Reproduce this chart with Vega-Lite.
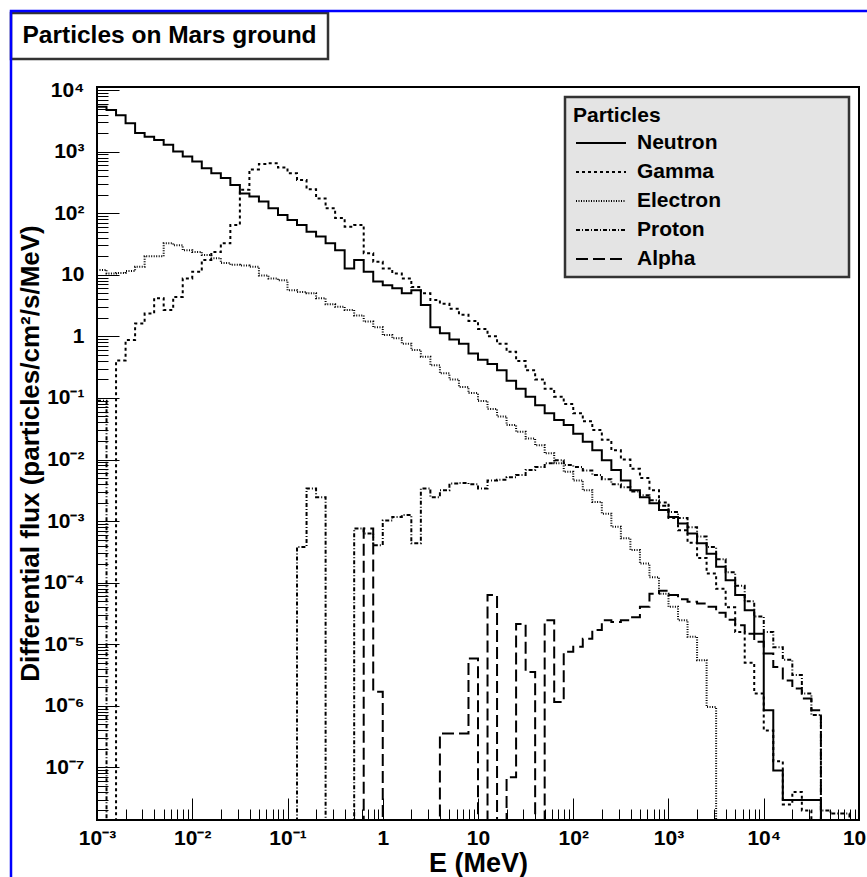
{
  "$schema": "https://vega.github.io/schema/vega-lite/v6.json",
  "autosize": {"type": "none"},
  "width": 762,
  "height": 733,
  "padding": {"left": 97, "top": 87, "right": 8, "bottom": 57},
  "background": "white",
  "config": {
    "font": "Liberation Sans",
    "view": {"stroke": "black", "strokeWidth": 2},
    "legend": {"strokeWidth": 2.5},
    "axis": {
      "labelFont": "Liberation Sans", "labelFontWeight": "bold", "labelFontSize": 21, "labelColor": "black",
      "titleFont": "Liberation Sans", "titleFontWeight": "bold", "titleColor": "black",
      "tickColor": "black", "tickWidth": 1, "grid": false, "domain": false,
      "labelFlush": false, "labelOverlap": false, "labelBound": false
    }
  },
  "layer": [
    {
      "data": {"values": [
        {"E": 0.001, "Neutron": 5370, "Gamma": 1e-10, "Electron": 12, "Proton": 0.09, "Alpha": 1e-10},
        {"E": 0.0012589, "Neutron": 4730, "Gamma": 1e-10, "Electron": 10.5, "Proton": 1e-10, "Alpha": 1e-10},
        {"E": 0.0015849, "Neutron": 3890, "Gamma": 0.407, "Electron": 10.7, "Proton": 1e-10, "Alpha": 1e-10},
        {"E": 0.0019953, "Neutron": 2880, "Gamma": 0.871, "Electron": 11.5, "Proton": 1e-10, "Alpha": 1e-10},
        {"E": 0.0025119, "Neutron": 2000, "Gamma": 1.62, "Electron": 13.5, "Proton": 1e-10, "Alpha": 1e-10},
        {"E": 0.0031623, "Neutron": 1740, "Gamma": 2.34, "Electron": 20, "Proton": 1e-10, "Alpha": 1e-10},
        {"E": 0.0039811, "Neutron": 1550, "Gamma": 4.17, "Electron": 20, "Proton": 1e-10, "Alpha": 1e-10},
        {"E": 0.0050119, "Neutron": 1290, "Gamma": 2.69, "Electron": 32.4, "Proton": 1e-10, "Alpha": 1e-10},
        {"E": 0.0063096, "Neutron": 1000, "Gamma": 4.37, "Electron": 30.2, "Proton": 1e-10, "Alpha": 1e-10},
        {"E": 0.0079433, "Neutron": 832, "Gamma": 8.71, "Electron": 25.1, "Proton": 1e-10, "Alpha": 1e-10},
        {"E": 0.01, "Neutron": 692, "Gamma": 11.2, "Electron": 23.4, "Proton": 1e-10, "Alpha": 1e-10},
        {"E": 0.012589, "Neutron": 537, "Gamma": 17.4, "Electron": 20.9, "Proton": 1e-10, "Alpha": 1e-10},
        {"E": 0.015849, "Neutron": 447, "Gamma": 23.4, "Electron": 18.6, "Proton": 1e-10, "Alpha": 1e-10},
        {"E": 0.019953, "Neutron": 372, "Gamma": 32.4, "Electron": 15.5, "Proton": 1e-10, "Alpha": 1e-10},
        {"E": 0.025119, "Neutron": 288, "Gamma": 64.6, "Electron": 14.5, "Proton": 1e-10, "Alpha": 1e-10},
        {"E": 0.031623, "Neutron": 209, "Gamma": 240, "Electron": 14.1, "Proton": 1e-10, "Alpha": 1e-10},
        {"E": 0.039811, "Neutron": 186, "Gamma": 513, "Electron": 13.5, "Proton": 1e-10, "Alpha": 1e-10},
        {"E": 0.050119, "Neutron": 155, "Gamma": 631, "Electron": 9.77, "Proton": 1e-10, "Alpha": 1e-10},
        {"E": 0.063096, "Neutron": 120, "Gamma": 646, "Electron": 8.71, "Proton": 1e-10, "Alpha": 1e-10},
        {"E": 0.079433, "Neutron": 93.3, "Gamma": 550, "Electron": 8.13, "Proton": 1e-10, "Alpha": 1e-10},
        {"E": 0.1, "Neutron": 77.6, "Gamma": 447, "Electron": 5.62, "Proton": 1e-10, "Alpha": 1e-10},
        {"E": 0.12589, "Neutron": 64.6, "Gamma": 347, "Electron": 5.25, "Proton": 0.00038, "Alpha": 1e-10},
        {"E": 0.15849, "Neutron": 50.1, "Gamma": 245, "Electron": 5.01, "Proton": 0.00339, "Alpha": 1e-10},
        {"E": 0.19953, "Neutron": 41.7, "Gamma": 174, "Electron": 4.17, "Proton": 0.00245, "Alpha": 1e-10},
        {"E": 0.25119, "Neutron": 32.4, "Gamma": 120, "Electron": 3.31, "Proton": 1e-10, "Alpha": 1e-10},
        {"E": 0.31623, "Neutron": 25.1, "Gamma": 83.2, "Electron": 3.02, "Proton": 1e-10, "Alpha": 1e-10},
        {"E": 0.39811, "Neutron": 12.6, "Gamma": 60.3, "Electron": 2.69, "Proton": 1e-10, "Alpha": 1e-10},
        {"E": 0.50119, "Neutron": 17.4, "Gamma": 64.6, "Electron": 2.19, "Proton": 0.000759, "Alpha": 1e-10},
        {"E": 0.63096, "Neutron": 11.2, "Gamma": 22.4, "Electron": 1.74, "Proton": 0.000631, "Alpha": 0.000759},
        {"E": 0.79433, "Neutron": 7.76, "Gamma": 16.2, "Electron": 1.41, "Proton": 0.000407, "Alpha": 1.7e-6},
        {"E": 1, "Neutron": 6.76, "Gamma": 12.6, "Electron": 1.05, "Proton": 0.00102, "Alpha": 1e-10},
        {"E": 1.2589, "Neutron": 6.03, "Gamma": 10.5, "Electron": 0.933, "Proton": 0.00117, "Alpha": 1e-10},
        {"E": 1.5849, "Neutron": 5.01, "Gamma": 8.71, "Electron": 0.759, "Proton": 0.00126, "Alpha": 1e-10},
        {"E": 1.9953, "Neutron": 5.62, "Gamma": 6.31, "Electron": 0.603, "Proton": 0.000437, "Alpha": 1e-10},
        {"E": 2.5119, "Neutron": 3.24, "Gamma": 5.01, "Electron": 0.468, "Proton": 0.00339, "Alpha": 1e-10},
        {"E": 3.1623, "Neutron": 1.41, "Gamma": 3.89, "Electron": 0.339, "Proton": 0.00245, "Alpha": 1e-10},
        {"E": 3.9811, "Neutron": 1.12, "Gamma": 3.39, "Electron": 0.251, "Proton": 0.00316, "Alpha": 3.55e-7},
        {"E": 5.0119, "Neutron": 0.891, "Gamma": 2.82, "Electron": 0.2, "Proton": 0.00407, "Alpha": 3.55e-7},
        {"E": 6.3096, "Neutron": 0.759, "Gamma": 2.24, "Electron": 0.151, "Proton": 0.00417, "Alpha": 3.55e-7},
        {"E": 7.9433, "Neutron": 0.525, "Gamma": 1.78, "Electron": 0.12, "Proton": 0.00398, "Alpha": 5.89e-6},
        {"E": 10, "Neutron": 0.417, "Gamma": 1.32, "Electron": 0.0891, "Proton": 0.00339, "Alpha": 1e-10},
        {"E": 12.589, "Neutron": 0.355, "Gamma": 1.0, "Electron": 0.0661, "Proton": 0.00457, "Alpha": 6.31e-5},
        {"E": 15.849, "Neutron": 0.282, "Gamma": 0.759, "Electron": 0.0501, "Proton": 0.00468, "Alpha": 1e-10},
        {"E": 19.953, "Neutron": 0.191, "Gamma": 0.562, "Electron": 0.0363, "Proton": 0.00513, "Alpha": 6.92e-8},
        {"E": 25.119, "Neutron": 0.141, "Gamma": 0.398, "Electron": 0.0282, "Proton": 0.00562, "Alpha": 2.14e-5},
        {"E": 31.623, "Neutron": 0.105, "Gamma": 0.282, "Electron": 0.0219, "Proton": 0.00676, "Alpha": 3.55e-6},
        {"E": 39.811, "Neutron": 0.0759, "Gamma": 0.2, "Electron": 0.017, "Proton": 0.00759, "Alpha": 1e-10},
        {"E": 50.119, "Neutron": 0.0562, "Gamma": 0.141, "Electron": 0.0126, "Proton": 0.00871, "Alpha": 2.45e-5},
        {"E": 63.096, "Neutron": 0.0437, "Gamma": 0.105, "Electron": 0.00871, "Proton": 0.00977, "Alpha": 1.15e-6},
        {"E": 79.433, "Neutron": 0.0363, "Gamma": 0.0794, "Electron": 0.00631, "Proton": 0.00813, "Alpha": 7.59e-6},
        {"E": 100, "Neutron": 0.0263, "Gamma": 0.0562, "Electron": 0.00457, "Proton": 0.00759, "Alpha": 9.12e-6},
        {"E": 125.89, "Neutron": 0.0195, "Gamma": 0.0417, "Electron": 0.00316, "Proton": 0.00661, "Alpha": 1.23e-5},
        {"E": 158.49, "Neutron": 0.0141, "Gamma": 0.0302, "Electron": 0.00204, "Proton": 0.00562, "Alpha": 1.7e-5},
        {"E": 199.53, "Neutron": 0.00977, "Gamma": 0.0209, "Electron": 0.00132, "Proton": 0.00479, "Alpha": 2.45e-5},
        {"E": 251.19, "Neutron": 0.00676, "Gamma": 0.0141, "Electron": 0.000813, "Proton": 0.00398, "Alpha": 2.29e-5},
        {"E": 316.23, "Neutron": 0.00457, "Gamma": 0.01, "Electron": 0.000525, "Proton": 0.00355, "Alpha": 2.45e-5},
        {"E": 398.11, "Neutron": 0.00316, "Gamma": 0.00708, "Electron": 0.000339, "Proton": 0.00302, "Alpha": 2.75e-5},
        {"E": 501.19, "Neutron": 0.00245, "Gamma": 0.00501, "Electron": 0.000204, "Proton": 0.00263, "Alpha": 4.07e-5},
        {"E": 630.96, "Neutron": 0.00195, "Gamma": 0.00316, "Electron": 0.000123, "Proton": 0.00219, "Alpha": 6.61e-5},
        {"E": 794.33, "Neutron": 0.00151, "Gamma": 0.002, "Electron": 6.61e-5, "Proton": 0.00178, "Alpha": 7.41e-5},
        {"E": 1000, "Neutron": 0.00117, "Gamma": 0.00112, "Electron": 4.07e-5, "Proton": 0.00141, "Alpha": 6.31e-5},
        {"E": 1258.9, "Neutron": 0.000912, "Gamma": 0.000708, "Electron": 2.45e-5, "Proton": 0.00112, "Alpha": 5.37e-5},
        {"E": 1584.9, "Neutron": 0.000631, "Gamma": 0.000447, "Electron": 1.32e-5, "Proton": 0.000794, "Alpha": 4.9e-5},
        {"E": 1995.3, "Neutron": 0.000437, "Gamma": 0.000251, "Electron": 5.5e-6, "Proton": 0.000562, "Alpha": 4.57e-5},
        {"E": 2511.9, "Neutron": 0.000295, "Gamma": 0.000141, "Electron": 9.55e-7, "Proton": 0.00038, "Alpha": 4.07e-5},
        {"E": 3162.3, "Neutron": 0.000182, "Gamma": 7.94e-5, "Electron": 1e-10, "Proton": 0.00024, "Alpha": 3.24e-5},
        {"E": 3981.1, "Neutron": 0.00011, "Gamma": 3.98e-5, "Electron": 1e-10, "Proton": 0.000148, "Alpha": 2.51e-5},
        {"E": 5011.9, "Neutron": 6.31e-5, "Gamma": 1.58e-5, "Electron": 1e-10, "Proton": 8.91e-5, "Alpha": 2.04e-5},
        {"E": 6309.6, "Neutron": 3.55e-5, "Gamma": 5.01e-6, "Electron": 1e-10, "Proton": 5.01e-5, "Alpha": 1.48e-5},
        {"E": 7943.3, "Neutron": 1.48e-5, "Gamma": 1.58e-6, "Electron": 1e-10, "Proton": 2.82e-5, "Alpha": 1.1e-5},
        {"E": 10000, "Neutron": 8.51e-7, "Gamma": 3.98e-7, "Electron": 1e-10, "Proton": 1.58e-5, "Alpha": 7.08e-6},
        {"E": 12589, "Neutron": 8.91e-8, "Gamma": 1.26e-7, "Electron": 1e-10, "Proton": 8.91e-6, "Alpha": 4.27e-6},
        {"E": 15849, "Neutron": 2.95e-8, "Gamma": 2.51e-8, "Electron": 1e-10, "Proton": 5.62e-6, "Alpha": 2.57e-6},
        {"E": 19953, "Neutron": 2.95e-8, "Gamma": 3.98e-8, "Electron": 1e-10, "Proton": 3.16e-6, "Alpha": 1.91e-6},
        {"E": 25119, "Neutron": 2.95e-8, "Gamma": 2e-8, "Electron": 1e-10, "Proton": 1.58e-6, "Alpha": 1.32e-6},
        {"E": 31623, "Neutron": 2.95e-8, "Gamma": 1e-10, "Electron": 1e-10, "Proton": 7.08e-7, "Alpha": 8.51e-7},
        {"E": 39811, "Neutron": 1e-10, "Gamma": 1e-10, "Electron": 1e-10, "Proton": 2e-8, "Alpha": 1e-10},
        {"E": 50119, "Neutron": 1e-10, "Gamma": 1e-10, "Electron": 1e-10, "Proton": 1.78e-8, "Alpha": 1e-10},
        {"E": 63096, "Neutron": 1e-10, "Gamma": 1e-10, "Electron": 1e-10, "Proton": 1.78e-8, "Alpha": 1e-10},
        {"E": 79433, "Neutron": 1e-10, "Gamma": 1e-10, "Electron": 1e-10, "Proton": 1e-10, "Alpha": 1e-10},
        {"E": 100000, "Neutron": 1e-10, "Gamma": 1e-10, "Electron": 1e-10, "Proton": 1e-10, "Alpha": 1e-10}
      ]},
      "transform": [{"fold": ["Neutron", "Gamma", "Electron", "Proton", "Alpha"], "as": ["particle", "flux"]}],
      "mark": {"type": "line", "interpolate": "step-after", "clip": true, "color": "black", "strokeWidth": 2},
      "encoding": {
        "x": {
          "field": "E", "type": "quantitative",
          "scale": {"type": "log", "domain": [0.001, 100000], "nice": false},
          "axis": {
            "values": [0.001,0.002,0.003,0.004,0.005,0.006,0.007,0.008,0.009,0.01,0.02,0.03,0.04,0.05,0.06,0.07,0.08,0.09,0.1,0.2,0.3,0.4,0.5,0.6,0.7,0.8,0.9,1,2,3,4,5,6,7,8,9,10,20,30,40,50,60,70,80,90,100,200,300,400,500,600,700,800,900,1000,2000,3000,4000,5000,6000,7000,8000,9000,10000,20000,30000,40000,50000,60000,70000,80000,90000,100000],
            "tickSize": {"condition": {"test": "abs(log(datum.value)/LN10 - round(log(datum.value)/LN10)) < 0.01", "value": -22}, "value": -11},
            "labelExpr": "abs(log(datum.value)/LN10 - round(log(datum.value)/LN10)) >= 0.01 ? '' : round(log(datum.value)/LN10) == 0 ? '1' : round(log(datum.value)/LN10) == 1 ? '10' : '10' + (datum.value < 1 ? '⁻' : '') + ['⁰','¹','²','³','⁴','⁵','⁶','⁷','⁸','⁹'][abs(round(log(datum.value)/LN10))]",
            "labelPadding": 29,
            "title": "E (MeV)", "titleFontSize": 27,
            "titleX": 381, "titleY": 51, "titleAlign": "center", "titleBaseline": "alphabetic"
          }
        },
        "y": {
          "field": "flux", "type": "quantitative",
          "scale": {"type": "log", "domain": [1.4e-8, 11200], "nice": false},
          "axis": {
            "values": [2e-8,3e-8,4e-8,5e-8,6e-8,7e-8,8e-8,9e-8,1e-7,2e-7,3e-7,4e-7,5e-7,6e-7,7e-7,8e-7,9e-7,1e-6,2e-6,3e-6,4e-6,5e-6,6e-6,7e-6,8e-6,9e-6,1e-5,2e-5,3e-5,4e-5,5e-5,6e-5,7e-5,8e-5,9e-5,0.0001,0.0002,0.0003,0.0004,0.0005,0.0006,0.0007,0.0008,0.0009,0.001,0.002,0.003,0.004,0.005,0.006,0.007,0.008,0.009,0.01,0.02,0.03,0.04,0.05,0.06,0.07,0.08,0.09,0.1,0.2,0.3,0.4,0.5,0.6,0.7,0.8,0.9,1,2,3,4,5,6,7,8,9,10,20,30,40,50,60,70,80,90,100,200,300,400,500,600,700,800,900,1000,2000,3000,4000,5000,6000,7000,8000,9000,10000],
            "tickSize": {"condition": {"test": "abs(log(datum.value)/LN10 - round(log(datum.value)/LN10)) < 0.01", "value": -22}, "value": -11},
            "labelExpr": "abs(log(datum.value)/LN10 - round(log(datum.value)/LN10)) >= 0.01 ? '' : round(log(datum.value)/LN10) == 0 ? '1' : round(log(datum.value)/LN10) == 1 ? '10' : '10' + (datum.value < 1 ? '⁻' : '') + ['⁰','¹','²','³','⁴','⁵','⁶','⁷','⁸','⁹'][abs(round(log(datum.value)/LN10))]",
            "labelPadding": 35,
            "title": "Differential flux (particles/cm²/s/MeV)", "titleFontSize": 26,
            "titleX": -67, "titleY": 366, "titleAngle": -90, "titleAlign": "center", "titleBaseline": "middle"
          }
        },
        "strokeDash": {
          "field": "particle", "type": "nominal",
          "scale": {"domain": ["Neutron", "Gamma", "Electron", "Proton", "Alpha"], "range": [[1, 0], [3, 3], [1, 1.5], [4, 2, 1, 2], [12, 5]]},
          "legend": {
            "title": "Particles⠀⠀⠀⠀⠀⠀⠀⠀⠀⠀⠀⠀",
            "orient": "top-right", "offset": 10,
            "symbolType": "M-2.5,0H2.5", "symbolSize": 400, "symbolStrokeWidth": 2, "symbolStrokeColor": "black", "symbolFillColor": "transparent",
            "symbolOffset": 17,
            "fillColor": "#e4e4e4", "strokeColor": "#333333", "padding": 8,
            "rowPadding": 8, "titlePadding": 6, "labelOffset": 25,
            "labelFont": "Liberation Sans", "labelFontWeight": "bold", "labelFontSize": 21, "labelColor": "black",
            "titleFont": "Liberation Sans", "titleFontWeight": "bold", "titleFontSize": 21, "titleColor": "black",
            "titleLimit": 500
          }
        }
      }
    },
    {
      "data": {"values": [{"title": "Particles on Mars ground"}]},
      "mark": {"type": "point", "opacity": 0},
      "encoding": {
        "shape": {
          "field": "title", "type": "nominal",
          "legend": {
            "title": null, "orient": "none", "legendX": -86, "legendY": -74,
            "fillColor": "white", "strokeColor": "#333333", "padding": 11,
            "symbolSize": 0, "symbolOpacity": 0, "labelOffset": -24, "labelLimit": 500,
            "labelFont": "Liberation Sans", "labelFontWeight": "bold", "labelFontSize": 24.5, "labelColor": "black"
          }
        }
      }
    },
    {
      "data": {"values": [{"border": ""}]},
      "mark": {"type": "point", "opacity": 0},
      "encoding": {
        "color": {
          "field": "border", "type": "nominal",
          "legend": {
            "title": null, "orient": "none", "legendX": -86, "legendY": -76,
            "strokeColor": "#0000ff", "fillColor": "transparent", "padding": 600,
            "symbolSize": 0, "symbolOpacity": 0, "labelOpacity": 0
          }
        }
      }
    }
  ]
}
